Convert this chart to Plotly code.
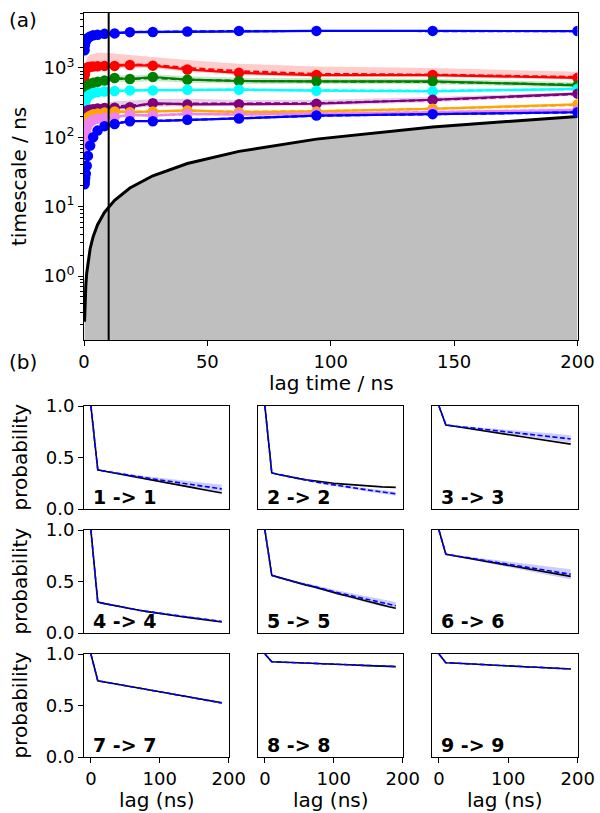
import plotly.graph_objects as go

# ---------------- (a) implied timescales ----------------
its_lags = [0.22, 0.33, 0.49, 0.73, 1.1, 1.6, 2.5, 3.7, 5.5, 8.3,
            12.4, 18.6, 27.9, 41.9, 62.8, 94.2, 141.3, 200.0]

ts1_mle = [1800, 2100, 2300, 2450, 2600, 2700, 2850, 2950, 3000, 3100, 3150, 3280, 3300, 3350, 3420, 3420, 3420, 3400]
ts1_mean = [1780, 2080, 2290, 2440, 2590, 2700, 2840, 2950, 3010, 3100, 3160, 3290, 3310, 3360, 3400, 3410, 3420, 3400]
ts1_lo = [1650, 1950, 2150, 2300, 2450, 2550, 2700, 2800, 2860, 2960, 3000, 3130, 3160, 3210, 3280, 3290, 3300, 3290]
ts1_hi = [1950, 2250, 2450, 2600, 2750, 2850, 3000, 3100, 3160, 3250, 3300, 3440, 3460, 3500, 3560, 3560, 3550, 3520]

ts2_mle = [650, 800, 900, 960, 1000, 1020, 1040, 1050, 1060, 1070, 1070, 1100, 1080, 950, 850, 790, 790, 720]
ts2_mean = [680, 830, 930, 990, 1030, 1060, 1080, 1090, 1100, 1110, 1100, 1120, 1100, 1000, 900, 820, 800, 740]
ts2_lo = [580, 720, 820, 880, 920, 940, 960, 970, 980, 990, 990, 1010, 1000, 880, 790, 740, 740, 680]
ts2_hi = [800, 1000, 1150, 1250, 1350, 1450, 1550, 1600, 1650, 1650, 1600, 1550, 1450, 1300, 1150, 1050, 1000, 880]

ts3_mle = [340, 400, 450, 500, 530, 560, 590, 610, 630, 660, 716, 692, 740, 679, 649, 641, 641, 561]
ts3_mean = [350, 410, 460, 505, 540, 570, 600, 620, 640, 670, 700, 690, 720, 680, 650, 640, 630, 570]
ts3_lo = [300, 360, 410, 455, 485, 515, 540, 560, 580, 610, 640, 620, 650, 610, 590, 585, 580, 520]
ts3_hi = [400, 460, 510, 560, 600, 640, 680, 710, 730, 760, 790, 780, 810, 760, 720, 710, 700, 620]

ts4_mle = [240, 280, 320, 350, 375, 395, 415, 435, 448, 458, 464, 475, 475, 486, 486, 470, 460, 500]
ts4_mean = [245, 285, 322, 352, 378, 398, 418, 437, 450, 460, 466, 476, 478, 488, 488, 475, 468, 495]
ts4_lo = [225, 265, 305, 335, 360, 380, 400, 418, 430, 440, 446, 455, 456, 466, 466, 452, 442, 475]
ts4_hi = [260, 300, 340, 370, 395, 415, 435, 455, 468, 478, 485, 496, 498, 508, 508, 494, 488, 520]

ts5_mle = [170, 190, 210, 225, 235, 245, 250, 255, 260, 265, 267, 272, 311, 298, 301, 305, 348, 426]
ts5_mean = [175, 195, 215, 230, 240, 250, 256, 262, 268, 274, 280, 285, 300, 305, 305, 310, 345, 420]
ts5_lo = [155, 175, 195, 208, 218, 228, 234, 240, 246, 252, 256, 260, 275, 280, 280, 285, 320, 400]
ts5_hi = [195, 215, 235, 250, 262, 272, 280, 290, 300, 310, 330, 340, 355, 360, 345, 345, 380, 450]

ts6_mle = [125, 140, 155, 170, 185, 195, 205, 215, 220, 228, 236, 230, 236, 244, 230, 236, 258, 298]
ts6_mean = [128, 143, 158, 173, 187, 197, 207, 216, 222, 229, 236, 233, 238, 242, 234, 238, 258, 294]
ts6_lo = [115, 130, 145, 160, 175, 185, 195, 204, 210, 217, 224, 220, 225, 230, 222, 226, 246, 282]
ts6_hi = [138, 153, 168, 183, 197, 207, 217, 226, 232, 240, 248, 246, 250, 256, 246, 250, 272, 312]

ts7_mle = [35, 70, 100, 122, 138, 152, 166, 178, 186, 192, 195, 211, 206, 218, 213, 218, 230, 249]
ts7_mean = [38, 72, 102, 124, 140, 154, 168, 179, 187, 193, 198, 210, 208, 217, 215, 220, 232, 248]
ts7_lo = [30, 62, 92, 114, 130, 144, 157, 169, 177, 183, 187, 200, 197, 206, 204, 208, 220, 236]
ts7_hi = [45, 80, 110, 132, 148, 162, 176, 188, 196, 202, 207, 222, 218, 230, 226, 230, 244, 262]

ts8_mle = [21, 23, 26, 30, 39, 54, 76, 100, 125, 145, 156, 171, 171, 179, 187, 206, 216, 230]
ts8_mean = [21, 23, 26, 30, 40, 55, 77, 101, 126, 146, 157, 172, 172, 180, 188, 205, 216, 229]
ts8_lo = [19, 21, 24, 28, 37, 51, 72, 95, 119, 139, 150, 165, 165, 173, 181, 198, 208, 221]
ts8_hi = [23, 25, 28, 33, 42, 57, 80, 105, 131, 151, 162, 178, 178, 186, 194, 213, 224, 239]

its_colors = ["blue", "red", "green", "cyan", "purple", "orange", "violet", "blue"]
its_fills = ["rgba(0,0,255,0.2)", "rgba(255,0,0,0.2)", "rgba(0,128,0,0.2)", "rgba(0,255,255,0.2)",
             "rgba(128,0,128,0.2)", "rgba(255,165,0,0.2)", "rgba(238,130,238,0.2)", "rgba(0,0,255,0.2)"]

chosen_lag = 10
fill_floor = 0.01  # below the visible y range, like ax.get_ylim()[0]

# ---------------- (b) Chapman-Kolmogorov test ----------------
ck_lags = [0, 10, 20, 30, 40, 50, 60, 70, 80, 90, 100, 110, 120, 130, 140, 150, 160, 170, 180, 190]

est_11 = [1.0, 0.38, 0.367, 0.355, 0.342, 0.33, 0.317, 0.305, 0.292, 0.28, 0.267, 0.255, 0.242, 0.23, 0.217, 0.205, 0.192, 0.18, 0.167, 0.155]
pred_11 = [1.0, 0.38, 0.368, 0.356, 0.345, 0.334, 0.323, 0.312, 0.302, 0.292, 0.282, 0.272, 0.263, 0.254, 0.245, 0.236, 0.227, 0.218, 0.207, 0.195]
err_11 = [0, 0.003, 0.005, 0.007, 0.009, 0.011, 0.013, 0.015, 0.017, 0.019, 0.021, 0.023, 0.025, 0.027, 0.029, 0.031, 0.033, 0.035, 0.037, 0.04]

est_22 = [1.0, 0.35, 0.335, 0.32, 0.307, 0.295, 0.284, 0.274, 0.265, 0.257, 0.25, 0.244, 0.238, 0.233, 0.228, 0.223, 0.219, 0.215, 0.212, 0.21]
pred_22 = [1.0, 0.35, 0.335, 0.32, 0.306, 0.292, 0.279, 0.267, 0.255, 0.244, 0.233, 0.222, 0.212, 0.202, 0.193, 0.184, 0.175, 0.166, 0.157, 0.148]
err_22 = [0, 0.002, 0.003, 0.004, 0.005, 0.006, 0.007, 0.008, 0.009, 0.01, 0.011, 0.012, 0.013, 0.014, 0.015, 0.016, 0.017, 0.018, 0.019, 0.02]

est_33 = [1.0, 0.815, 0.805, 0.794, 0.784, 0.774, 0.763, 0.753, 0.743, 0.733, 0.722, 0.712, 0.702, 0.692, 0.681, 0.671, 0.661, 0.651, 0.64, 0.63]
pred_33 = [1.0, 0.815, 0.807, 0.8, 0.792, 0.785, 0.777, 0.77, 0.762, 0.755, 0.748, 0.74, 0.733, 0.725, 0.718, 0.71, 0.703, 0.695, 0.688, 0.68]
err_33 = [0, 0.003, 0.005, 0.007, 0.009, 0.011, 0.013, 0.015, 0.017, 0.019, 0.021, 0.023, 0.025, 0.027, 0.029, 0.031, 0.032, 0.033, 0.034, 0.035]

est_44 = [1.0, 0.30, 0.285, 0.271, 0.258, 0.245, 0.233, 0.221, 0.21, 0.199, 0.189, 0.179, 0.17, 0.161, 0.152, 0.144, 0.136, 0.127, 0.117, 0.107]
pred_44 = [1.0, 0.30, 0.285, 0.271, 0.258, 0.245, 0.233, 0.221, 0.21, 0.2, 0.19, 0.181, 0.172, 0.163, 0.155, 0.147, 0.139, 0.13, 0.121, 0.112]
err_44 = [0, 0.001, 0.002, 0.002, 0.003, 0.003, 0.004, 0.004, 0.005, 0.005, 0.006, 0.006, 0.007, 0.007, 0.008, 0.008, 0.009, 0.009, 0.01, 0.01]

est_55 = [1.0, 0.56, 0.54, 0.52, 0.50, 0.485, 0.465, 0.45, 0.43, 0.41, 0.395, 0.375, 0.36, 0.34, 0.32, 0.305, 0.29, 0.27, 0.255, 0.24]
pred_55 = [1.0, 0.56, 0.54, 0.52, 0.505, 0.485, 0.47, 0.455, 0.435, 0.42, 0.40, 0.385, 0.37, 0.35, 0.335, 0.32, 0.305, 0.29, 0.28, 0.265]
err_55 = [0, 0.002, 0.004, 0.006, 0.008, 0.01, 0.012, 0.014, 0.016, 0.018, 0.02, 0.022, 0.024, 0.026, 0.028, 0.03, 0.031, 0.032, 0.033, 0.035]

est_66 = [1.0, 0.765, 0.753, 0.741, 0.729, 0.717, 0.705, 0.693, 0.681, 0.669, 0.658, 0.646, 0.634, 0.622, 0.61, 0.598, 0.586, 0.574, 0.562, 0.55]
pred_66 = [1.0, 0.765, 0.754, 0.743, 0.733, 0.722, 0.711, 0.70, 0.689, 0.678, 0.668, 0.657, 0.646, 0.635, 0.624, 0.613, 0.603, 0.592, 0.581, 0.57]
err_66 = [0, 0.003, 0.006, 0.009, 0.012, 0.015, 0.018, 0.021, 0.024, 0.027, 0.03, 0.033, 0.035, 0.037, 0.039, 0.041, 0.043, 0.045, 0.047, 0.05]

est_77 = [1.0, 0.74, 0.728, 0.716, 0.704, 0.693, 0.681, 0.669, 0.657, 0.645, 0.633, 0.621, 0.609, 0.597, 0.585, 0.574, 0.562, 0.55, 0.538, 0.526]
pred_77 = [1.0, 0.74, 0.728, 0.717, 0.705, 0.693, 0.681, 0.669, 0.657, 0.645, 0.633, 0.621, 0.609, 0.597, 0.586, 0.574, 0.562, 0.55, 0.538, 0.524]
err_77 = [0, 0.001, 0.002, 0.002, 0.003, 0.003, 0.004, 0.004, 0.005, 0.005, 0.006, 0.006, 0.007, 0.007, 0.008, 0.008, 0.009, 0.009, 0.01, 0.01]

est_88 = [1.0, 0.925, 0.922, 0.92, 0.917, 0.914, 0.912, 0.909, 0.906, 0.904, 0.901, 0.898, 0.896, 0.893, 0.89, 0.888, 0.885, 0.882, 0.88, 0.877]
pred_88 = [1.0, 0.925, 0.922, 0.92, 0.917, 0.914, 0.912, 0.909, 0.906, 0.904, 0.901, 0.898, 0.896, 0.893, 0.891, 0.888, 0.885, 0.883, 0.88, 0.878]
err_88 = [0, 0.001, 0.001, 0.001, 0.002, 0.002, 0.002, 0.002, 0.003, 0.003, 0.003, 0.003, 0.004, 0.004, 0.004, 0.004, 0.005, 0.005, 0.005, 0.005]

est_99 = [1.0, 0.915, 0.912, 0.908, 0.905, 0.901, 0.898, 0.895, 0.891, 0.888, 0.885, 0.881, 0.878, 0.874, 0.871, 0.868, 0.864, 0.861, 0.857, 0.854]
pred_99 = [1.0, 0.915, 0.912, 0.908, 0.905, 0.902, 0.898, 0.895, 0.892, 0.888, 0.885, 0.882, 0.878, 0.875, 0.872, 0.868, 0.865, 0.862, 0.858, 0.855]
err_99 = [0, 0.001, 0.001, 0.001, 0.002, 0.002, 0.002, 0.002, 0.003, 0.003, 0.003, 0.003, 0.004, 0.004, 0.004, 0.004, 0.005, 0.005, 0.005, 0.005]

ck_labels = ["1 -> 1", "2 -> 2", "3 -> 3", "4 -> 4", "5 -> 5", "6 -> 6", "7 -> 7", "8 -> 8", "9 -> 9"]

FONT = "DejaVu Sans"
W, H = 600, 813

fig = go.Figure()

# grey area below the lag-time line
fig.add_trace(go.Scatter(x=its_lags, y=[fill_floor] * len(its_lags), mode="lines",
                         line=dict(width=0), xaxis="x", yaxis="y"))
fig.add_trace(go.Scatter(x=its_lags, y=its_lags, mode="lines", fill="tonexty",
                         fillcolor="rgba(128,128,128,0.5)", line=dict(color="black", width=3),
                         xaxis="x", yaxis="y"))

ts_sets = [
    (ts1_mle, ts1_mean, ts1_lo, ts1_hi), (ts2_mle, ts2_mean, ts2_lo, ts2_hi),
    (ts3_mle, ts3_mean, ts3_lo, ts3_hi), (ts4_mle, ts4_mean, ts4_lo, ts4_hi),
    (ts5_mle, ts5_mean, ts5_lo, ts5_hi), (ts6_mle, ts6_mean, ts6_lo, ts6_hi),
    (ts7_mle, ts7_mean, ts7_lo, ts7_hi), (ts8_mle, ts8_mean, ts8_lo, ts8_hi),
]
for (mle, mean, lo, hi), col, fcol in zip(ts_sets, its_colors, its_fills):
    fig.add_trace(go.Scatter(x=its_lags, y=lo, mode="lines", line=dict(width=0),
                             xaxis="x", yaxis="y"))
    fig.add_trace(go.Scatter(x=its_lags, y=hi, mode="lines", line=dict(width=0),
                             fill="tonexty", fillcolor=fcol, xaxis="x", yaxis="y"))
for (mle, mean, lo, hi), col in zip(ts_sets, its_colors):
    fig.add_trace(go.Scatter(x=its_lags, y=mle, mode="lines+markers",
                             line=dict(color=col, width=2.2), marker=dict(color=col, size=10.5),
                             xaxis="x", yaxis="y"))
    fig.add_trace(go.Scatter(x=its_lags, y=mean, mode="lines",
                             line=dict(color=col, width=2.2, dash="6px,3px"),
                             xaxis="x", yaxis="y"))

fig.add_shape(type="line", x0=chosen_lag, x1=chosen_lag, xref="x", y0=0, y1=1, yref="y domain",
              line=dict(color="black", width=2))

# CK panels
ck_sets = [(est_11, pred_11, err_11), (est_22, pred_22, err_22), (est_33, pred_33, err_33),
           (est_44, pred_44, err_44), (est_55, pred_55, err_55), (est_66, pred_66, err_66),
           (est_77, pred_77, err_77), (est_88, pred_88, err_88), (est_99, pred_99, err_99)]

col_dom = [[84 / W, 229 / W], [258 / W, 403 / W], [432 / W, 578 / W]]
row_dom = [[1 - 509 / H, 1 - 406 / H], [1 - 633 / H, 1 - 530 / H], [1 - 757 / H, 1 - 654 / H]]

axis_common = dict(showgrid=False, zeroline=False, showline=True, mirror=True, automargin=False,
                   linecolor="black", linewidth=1, tickcolor="black", ticklen=5,
                   tickfont=dict(family=FONT, size=18, color="black"))

layout = dict(
    width=W, height=H, margin=dict(l=0, r=0, t=0, b=0, pad=0, autoexpand=False),
    paper_bgcolor="white", plot_bgcolor="white", showlegend=False,
    font=dict(family=FONT, color="black"),
    xaxis=dict(domain=[84 / W, 577.5 / W], range=[0, 200], tickvals=[0, 50, 100, 150, 200],
               ticks="outside", anchor="y", **axis_common),
    yaxis=dict(domain=[1 - 340 / H, 1 - 13 / H], type="log", range=[-0.921, 3.792],
               tickvals=[1, 10, 100, 1000],
               ticktext=["10<sup>0</sup>", "10<sup>1</sup>", "10<sup>2</sup>", "10<sup>3</sup>"],
               ticks="outside", anchor="x",
               minor=dict(ticks="outside", ticklen=3, tickcolor="black",
                          tickvals=[m * 10 ** e for e in range(-1, 4) for m in range(2, 10)]),
               **axis_common),
)

annotations = []
for k, ((est, pred, err), lab) in enumerate(zip(ck_sets, ck_labels)):
    r, c = divmod(k, 3)
    n = k + 2
    xa, ya = f"x{n}", f"y{n}"
    lo = [p - e for p, e in zip(pred, err)]
    hi = [p + e for p, e in zip(pred, err)]
    fig.add_trace(go.Scatter(x=ck_lags, y=lo, mode="lines", line=dict(width=0), xaxis=xa, yaxis=ya))
    fig.add_trace(go.Scatter(x=ck_lags, y=hi, mode="lines", line=dict(width=0), fill="tonexty",
                             fillcolor="rgba(0,0,255,0.2)", xaxis=xa, yaxis=ya))
    fig.add_trace(go.Scatter(x=ck_lags, y=est, mode="lines", line=dict(color="black", width=1.6),
                             xaxis=xa, yaxis=ya))
    fig.add_trace(go.Scatter(x=ck_lags, y=pred, mode="lines",
                             line=dict(color="blue", width=1.6, dash="5px,2.5px"), xaxis=xa, yaxis=ya))
    layout[f"xaxis{n}"] = dict(domain=col_dom[c], range=[-10, 200.5], anchor=ya,
                               tickvals=[0, 100, 200], ticks="outside" if r == 2 else "",
                               showticklabels=(r == 2), **axis_common)
    layout[f"yaxis{n}"] = dict(domain=row_dom[r], range=[0, 1], anchor=xa,
                               tickvals=[0, 0.5, 1], ticktext=["0.0", "0.5", "1.0"],
                               ticks="outside" if c == 0 else "",
                               showticklabels=(c == 0), **axis_common)
    annotations.append(dict(text=f"<b>{lab}</b>", xref=f"{xa} domain", yref=f"{ya} domain",
                            x=0.05, y=0.12, xanchor="left", yanchor="middle", showarrow=False,
                            font=dict(family=FONT, size=19, color="black")))

title_font = dict(family=FONT, size=20, color="black")


def paper_text(text, xp, yp, angle=0):
    return dict(text=text, x=xp / W, y=1 - yp / H, xref="paper", yref="paper",
                xanchor="center", yanchor="middle", textangle=angle,
                showarrow=False, font=title_font)


annotations += [
    paper_text("(a)", 23, 20),
    paper_text("(b)", 23, 362),
    paper_text("timescale / ns", 19, 177, -90),
    paper_text("lag time / ns", 331, 383),
]
for r in range(3):
    yc = 1 - (row_dom[r][0] + row_dom[r][1]) / 2
    annotations.append(paper_text("probability", 19, yc * H, -90))
for c in range(3):
    xc = (col_dom[c][0] + col_dom[c][1]) / 2
    annotations.append(paper_text("lag (ns)", xc * W, 800))

layout["annotations"] = annotations
fig.update_layout(**layout)
fig.update_traces(hoverinfo="skip")

# drop the page's default body margin so the 600x813 figure fills the window
fig.write_html("out.html", config={"displayModeBar": False},
               post_script="document.body.style.margin='0px';")
